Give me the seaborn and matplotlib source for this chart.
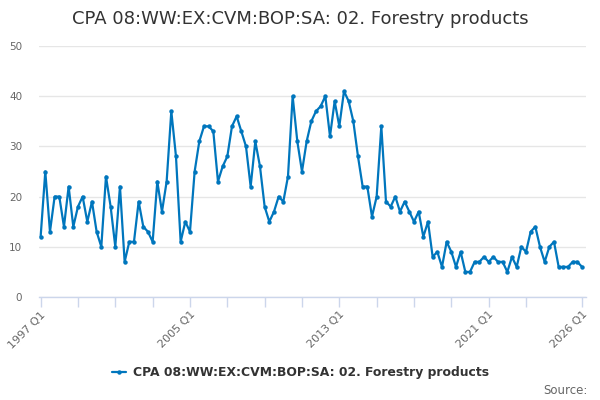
import pandas as pd
import matplotlib
matplotlib.use("Agg")
import matplotlib.pyplot as plt
import seaborn as sns

# valores trimestrales (1997 Q1 - 2026 Q1)
years = list(range(1997, 2027))
values = [
    12, 25, 13, 20,   # 1997
    20, 14, 22, 14,   # 1998
    18, 20, 15, 19,   # 1999
    13, 10, 24, 18,   # 2000
    10, 22, 7, 11,    # 2001
    11, 19, 14, 13,   # 2002
    11, 23, 17, 23,   # 2003
    37, 28, 11, 15,   # 2004
    13, 25, 31, 34,   # 2005
    34, 33, 23, 26,   # 2006
    28, 34, 36, 33,   # 2007
    30, 22, 31, 26,   # 2008
    18, 15, 17, 20,   # 2009
    19, 24, 40, 31,   # 2010
    25, 31, 35, 37,   # 2011
    38, 40, 32, 39,   # 2012
    34, 41, 39, 35,   # 2013
    28, 22, 22, 16,   # 2014
    20, 34, 19, 18,   # 2015
    20, 17, 19, 17,   # 2016
    15, 17, 12, 15,   # 2017
    8, 9, 6, 11,      # 2018
    9, 6, 9, 5,       # 2019
    5, 7, 7, 8,       # 2020
    7, 8, 7, 7,       # 2021
    5, 8, 6, 10,      # 2022
    9, 13, 14, 10,    # 2023
    7, 10, 11, 6,     # 2024
    6, 6, 7, 7,       # 2025
    6,                # 2026
]
quarters = [f"{y} Q{q}" for y in years for q in range(1, 5)][:len(values)]
series_name = "CPA 08:WW:EX:CVM:BOP:SA: 02. Forestry products"
tick_labels = ["1997 Q1", "2005 Q1", "2013 Q1", "2021 Q1", "2026 Q1"]

df = pd.DataFrame({"Periodo": quarters, "Valor": values})
df["idx"] = range(len(df))

sns.set_style("white")
plt.rcParams["font.family"] = ["DejaVu Sans"]

fig = plt.figure(figsize=(6, 4), dpi=100)
ax = fig.add_axes([0.065, 0.2575, 0.912, 0.6275])

color = "#0076bd"
sns.lineplot(data=df, x="idx", y="Valor", ax=ax, color=color, linewidth=1.6,
             marker="o", markersize=3.2, markeredgewidth=0, label=series_name)

ax.set_ylim(0, 50)
ax.set_yticks([0, 10, 20, 30, 40, 50])
ax.set_xlim(-0.35, len(values) - 1 + 0.9)

# ticks cada 2 anos, etiquetas cada 8 anos + ultima
tick_pos = list(range(0, 105, 8)) + [len(values) - 1]
ax.set_xticks(tick_pos)
ax.set_xticklabels([q if q in tick_labels else "" for q in df["Periodo"].iloc[tick_pos]],
                   rotation=45, ha="right", rotation_mode="anchor")

ax.yaxis.grid(True, color="#e6e6e6", linewidth=1)
ax.xaxis.grid(False)
for s in ["top", "right", "left"]:
    ax.spines[s].set_visible(False)
ax.spines["bottom"].set_color("#ccd6eb")
ax.spines["bottom"].set_linewidth(1)
ax.tick_params(axis="x", colors="#ccd6eb", length=7, width=1, labelcolor="#666666",
               labelsize=8, pad=2, bottom=True)
ax.tick_params(axis="y", length=0, labelcolor="#666666", labelsize=7.5, pad=12)
ax.set_xlabel("")
ax.set_ylabel("")

fig.suptitle(series_name, x=0.5, y=0.975, fontsize=13, color="#333333")

ax.legend(loc="upper center", bbox_to_anchor=(0.478, -0.23), frameon=False,
          prop={"weight": "bold", "size": 8.9}, labelcolor="#333333",
          handlelength=1.1, handletextpad=0.6, markerscale=1)
fig.text(0.98, 0.008, "Source:", ha="right", va="bottom", fontsize=8.5, color="#666666")

fig.savefig("out.png", dpi=100)
